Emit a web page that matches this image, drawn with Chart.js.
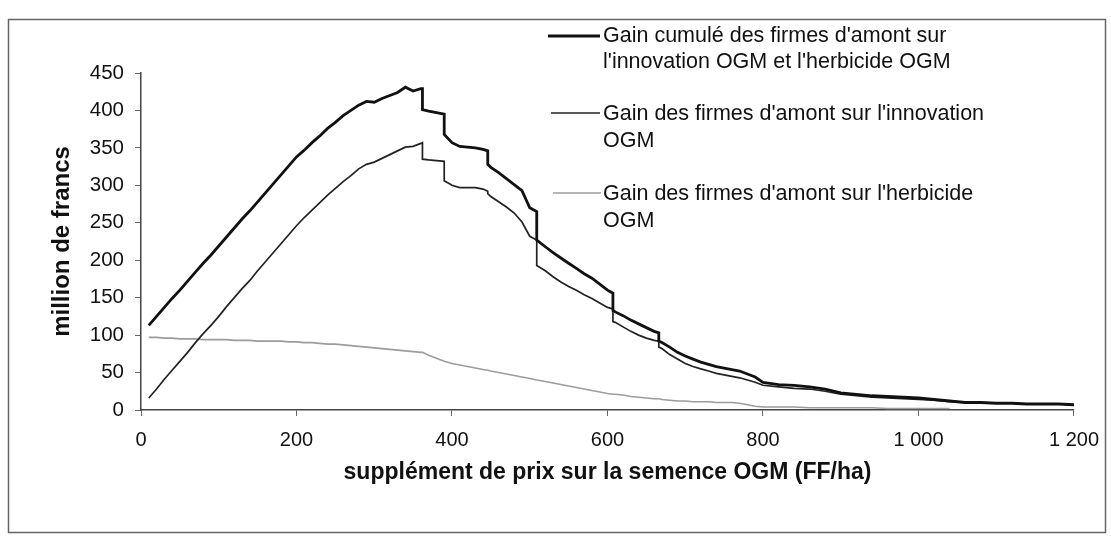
<!DOCTYPE html>
<html>
<head>
<meta charset="utf-8">
<script src="https://cdn.jsdelivr.net/npm/chart.js@4"></script>
<style>
  html, body { margin: 0; padding: 0; background: #fff; }
  #wrap { width: 1111px; height: 538px; }
</style>
</head>
<body>
<div id="wrap"><canvas id="chart" width="1111" height="538"></canvas></div>
<script>
// supplément de prix (FF/ha) - x values, duplicated where the curves drop
const prix = [
  10, 20, 30, 40, 50, 60, 70, 80, 90, 100,
  110, 120, 130, 140, 150, 160, 170, 180, 190, 200,
  210, 220, 230, 240, 250, 260, 270, 280, 290, 300,
  310, 320, 330, 340, 350, 360, 362, 362, 370, 380,
  390, 390, 400, 410, 420, 430, 440, 446, 446, 450,
  460, 470, 480, 490, 500, 509, 509, 520, 530, 540,
  550, 560, 570, 580, 590, 600, 607, 607, 610, 620,
  630, 640, 650, 660, 666, 666, 670, 680, 690, 700,
  710, 720, 730, 740, 750, 760, 770, 780, 790, 800,
  820, 840, 860, 880, 900, 920, 940, 960, 980, 1000,
  1020, 1040, 1060, 1080, 1100, 1120, 1140, 1160, 1180, 1200
];

// gain cumulé (million de francs)
const gainCumule = [
  113, 125, 137, 149, 160, 172, 184, 196, 207, 219,
  231, 243, 255, 266, 278, 290, 302, 314, 326, 338,
  347, 357, 366, 376, 384, 393, 400, 407, 412, 411,
  416, 420, 424, 431, 426, 429, 429, 401, 399, 397,
  395, 368, 357, 352, 351, 350, 348, 346, 328, 324,
  317, 309, 301, 293, 270, 265, 227, 218, 210, 203,
  196, 189, 182, 176, 168, 160, 156, 133, 131, 126,
  120, 115, 110, 105, 103, 92, 90, 84, 77, 72,
  68, 64, 61, 58, 56, 54, 52, 48, 44, 37,
  34, 33, 31, 28, 23, 21, 19, 18, 17, 16,
  14, 12, 10, 10, 9, 9, 8, 8, 8, 7
];

// gain sur l'innovation OGM
const gainInnovation = [
  16, 28, 41, 53, 65, 77, 90, 102, 113, 125,
  138, 150, 162, 173, 186, 198, 210, 222, 234, 246,
  257, 267, 277, 287, 296, 305, 313, 322, 328, 331,
  336, 341, 346, 351, 352, 356, 357, 335, 334, 333,
  332, 306, 300, 297, 297, 297, 295, 292, 289, 285,
  278, 271, 263, 251, 232, 227, 193, 186, 178, 171,
  165, 160, 154, 149, 143, 137, 135, 118, 117, 111,
  105, 100, 96, 93, 92, 84, 82, 74, 68, 62,
  58, 55, 52, 49, 47, 45, 43, 40, 37, 33,
  31, 29, 28, 25, 21, 19, 17, 16, 15, 14,
  13, 11, 10, 10, 9, 9, 8, 8, 8, 7
];

// gain sur l'herbicide OGM
const gainHerbicide = [
  97, 97, 96, 96, 95, 95, 95, 94, 94, 94,
  94, 93, 93, 93, 92, 92, 92, 92, 91, 91,
  90, 90, 89, 88, 88, 87, 86, 85, 84, 83,
  82, 81, 80, 79, 78, 77, 77, 77, 73, 69,
  65, 65, 62, 60, 58, 56, 54, 53, 53, 52,
  50, 48, 46, 44, 42, 40, 40, 38, 36, 34,
  32, 30, 28, 26, 24, 22, 21, 21, 21, 20,
  18, 17, 16, 15, 15, 15, 14, 13, 12, 12,
  11, 11, 11, 10, 10, 10, 9, 7, 5, 4,
  4, 4, 3, 3, 3, 3, 3, 2, 2, 2,
  2, 2, null, null, null, null, null, null, null, null
];

const noms = [
  ["Gain cumulé des firmes d'amont sur", "l'innovation OGM et l'herbicide OGM"],
  ["Gain des firmes d'amont sur l'innovation", "OGM"],
  ["Gain des firmes d'amont sur l'herbicide", "OGM"]
];

function points(vals) {
  return prix.map((x, i) => ({ x: x, y: vals[i] }));
}

const FONT = "'Liberation Sans', Arial, sans-serif";

// frame + legend with two-line labels
const cadre = {
  id: 'cadre',
  afterDraw(chart) {
    const c = chart.ctx;
    c.save();
    c.strokeStyle = '#666';
    c.lineWidth = 1.5;
    c.strokeRect(8.5, 19.5, 1097, 513);

    const pos = [
      { x0: 548, x1: 600, y: 36, t: [36, 62] },
      { x0: 551, x1: 600, y: 113, t: [114, 141] },
      { x0: 553, x1: 601, y: 193, t: [194, 221] }
    ];
    chart.data.datasets.forEach((ds, i) => {
      const p = pos[i];
      c.strokeStyle = ds.borderColor;
      c.lineWidth = ds.borderWidth;
      c.beginPath();
      c.moveTo(p.x0, p.y);
      c.lineTo(p.x1, p.y);
      c.stroke();
      c.fillStyle = '#111';
      c.font = '21.5px ' + FONT;
      c.textBaseline = 'middle';
      c.textAlign = 'left';
      ds.label.forEach((l, k) => c.fillText(l, 603, p.t[k]));
    });
    c.restore();
  }
};

new Chart(document.getElementById('chart'), {
  type: 'line',
  data: {
    datasets: [
      { label: noms[0], data: points(gainCumule), borderColor: '#111', borderWidth: 2.8, order: 1 },
      { label: noms[1], data: points(gainInnovation), borderColor: '#222', borderWidth: 1.7, order: 2 },
      { label: noms[2], data: points(gainHerbicide), borderColor: '#9c9c9c', borderWidth: 1.6, order: 3 }
    ]
  },
  options: {
    responsive: false,
    animation: false,
    devicePixelRatio: 1,
    layout: { padding: { top: 73, right: 30, left: 0, bottom: 0 } },
    elements: { point: { radius: 0 }, line: { tension: 0 } },
    plugins: { legend: { display: false }, tooltip: { enabled: false } },
    scales: {
      x: {
        type: 'linear',
        min: 0, max: 1200,
        afterFit(s) { s.height = 128; },
        ticks: {
          stepSize: 200,
          color: '#111',
          padding: 12,
          font: { family: FONT, size: 20 },
          callback: v => String(v).replace(/\B(?=(\d{3})+(?!\d))/g, ' ')
        },
        grid: { drawOnChartArea: false, tickLength: 6, color: '#666' },
        border: { color: '#444', width: 1.5 },
        title: {
          display: true,
          text: 'supplément de prix sur la semence OGM (FF/ha)',
          color: '#111',
          font: { family: FONT, size: 23, weight: 'bold' },
          padding: { top: 0, bottom: 52 }
        }
      },
      y: {
        min: 0, max: 450,
        afterFit(s) { s.width = 141; },
        ticks: {
          stepSize: 50,
          color: '#111',
          padding: 11,
          font: { family: FONT, size: 20.5 }
        },
        grid: { drawOnChartArea: false, tickLength: 6, color: '#666' },
        border: { color: '#444', width: 1.5 },
        title: {
          display: true,
          text: 'million de francs',
          color: '#111',
          font: { family: FONT, size: 24, weight: 'bold' },
          padding: { top: 48, bottom: 0 }
        }
      }
    }
  },
  plugins: [cadre]
});
</script>
</body>
</html>
